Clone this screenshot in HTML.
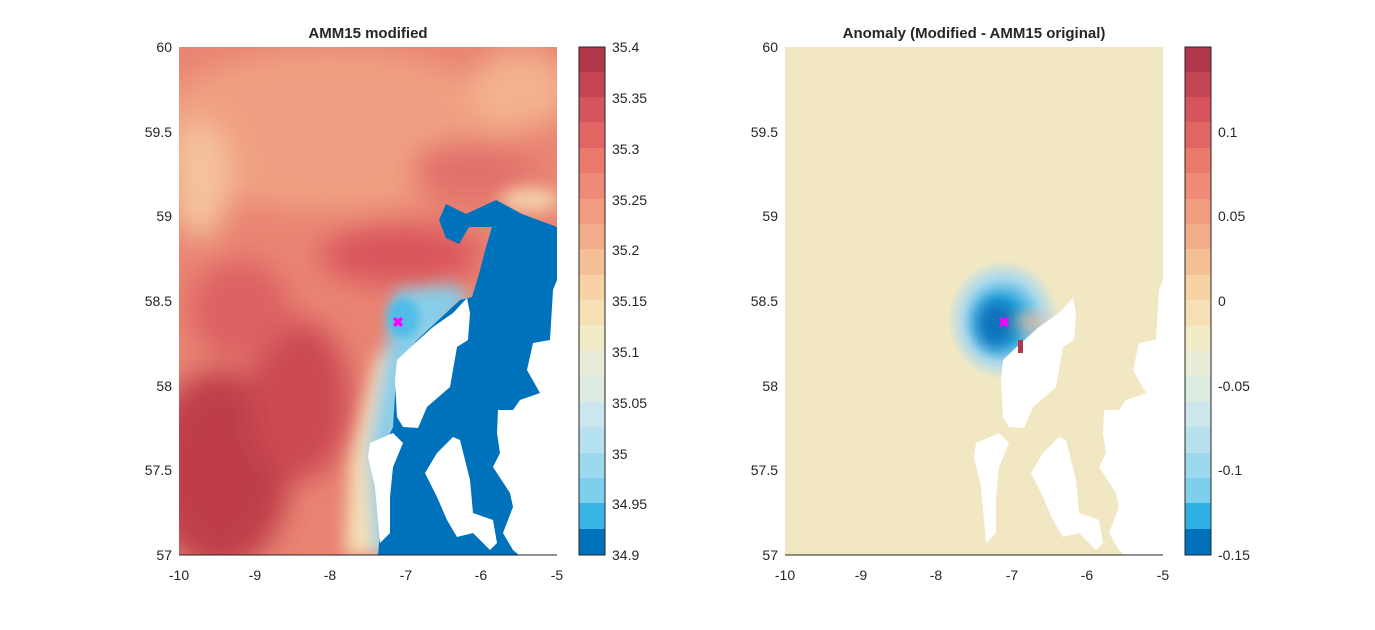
<!DOCTYPE html>
<html><head><meta charset="utf-8"><style>
body{margin:0;background:#fff;}
svg text{font-family:"Liberation Sans",sans-serif;fill:#262626;}
</style></head><body>
<svg width="1375" height="625" viewBox="0 0 1375 625" xmlns="http://www.w3.org/2000/svg">
<defs>
<filter id="b4" x="-50%" y="-50%" width="200%" height="200%"><feGaussianBlur stdDeviation="4"/></filter>
<filter id="b8" x="-50%" y="-50%" width="200%" height="200%"><feGaussianBlur stdDeviation="8"/></filter>
<filter id="b15" x="-50%" y="-50%" width="200%" height="200%"><feGaussianBlur stdDeviation="14"/></filter>
<clipPath id="cl"><rect x="179" y="47" width="378" height="508"/></clipPath>
<clipPath id="cr"><rect x="785" y="47" width="378" height="508"/></clipPath>
<radialGradient id="an" cx="0.5" cy="0.5" r="0.5">
<stop offset="0" stop-color="#0a6fb8"/><stop offset="0.35" stop-color="#2aa8dc"/>
<stop offset="0.7" stop-color="#a9d8ec"/><stop offset="1" stop-color="#f2e8c4"/>
</radialGradient>
<g id="land" fill="#fff">
<polygon points="467,298 470,313 468,340 457,347 450,387 427,407 418,428 403,427 397,417 395,380 397,360 415,343 433,327 453,313"/>
<polygon points="370,443 393,433 403,443 393,467 390,497 390,533 380,543 375,487 368,457"/>
<polygon points="425,473 437,453 453,437 460,440 470,480 473,513 493,520 497,543 490,550 473,533 457,537 447,520 437,497"/>
<polygon points="557,280 553,290 550,340 533,343 527,370 540,393 520,400 513,410 498,410 497,433 500,453 493,467 510,493 513,507 503,533 513,550 520,556 557,556"/>
</g>
</defs>
<!-- Left panel -->
<g clip-path="url(#cl)">
<rect x="179" y="47" width="378" height="508" fill="#e98473"/>
<g filter="url(#b15)">
<ellipse cx="330" cy="130" rx="180" ry="80" fill="#f0a082"/>
<ellipse cx="200" cy="180" rx="30" ry="60" fill="#f4c29c"/>
<ellipse cx="520" cy="90" rx="50" ry="40" fill="#f3b28e"/>
<ellipse cx="470" cy="170" rx="60" ry="30" fill="#e2706a"/>
<ellipse cx="400" cy="255" rx="80" ry="30" fill="#d9555b"/>
<ellipse cx="220" cy="470" rx="70" ry="100" fill="#be3c4a"/>
<ellipse cx="300" cy="400" rx="50" ry="80" fill="#cc4952"/>
<ellipse cx="240" cy="310" rx="50" ry="50" fill="#dc6262"/>
</g>
<g filter="url(#b8)">
<polygon points="430,285 470,295 420,360 400,460 392,555 345,555 350,460 375,360" fill="#f4dfb6"/>
<polygon points="395,290 455,285 470,300 420,350 398,440 390,555 375,555 368,450 385,360" fill="#86cde9"/>
<ellipse cx="530" cy="200" rx="30" ry="12" fill="#f4d2ac"/>
</g>
<ellipse cx="403" cy="318" rx="16" ry="20" fill="#4fbde8" filter="url(#b4)"/>
<polygon points="439,220 446,204 466,214 496,200 522,214 557,227 557,555 378,555 383,500 387,440 393,427 397,363 417,340 460,300 472,297 479,274 486,247 492,227 469,227 459,244 446,238" fill="#0072bc"/>
<use href="#land"/>
</g>
<text x="398" y="327" font-size="14" font-weight="bold" style="fill:#ff00ff" text-anchor="middle">✖</text>
<line x1="179" y1="555" x2="557" y2="555" stroke="#262626" stroke-width="1"/>
<g font-size="14" text-anchor="middle">
<text x="179" y="580">-10</text><text x="255" y="580">-9</text><text x="330" y="580">-8</text><text x="406" y="580">-7</text><text x="481" y="580">-6</text><text x="557" y="580">-5</text>
</g>
<g font-size="14" text-anchor="end">
<text x="172" y="52">60</text><text x="172" y="137">59.5</text><text x="172" y="221">59</text><text x="172" y="306">58.5</text><text x="172" y="391">58</text><text x="172" y="475">57.5</text><text x="172" y="560">57</text>
</g>
<text x="368" y="38" font-size="15" font-weight="bold" text-anchor="middle">AMM15 modified</text>
<g>
<rect x="579" y="47" width="26" height="26" fill="#b0384a"/>
<rect x="579" y="72" width="26" height="26" fill="#c54552"/>
<rect x="579" y="97" width="26" height="26" fill="#d6545b"/>
<rect x="579" y="122" width="26" height="26" fill="#e16663"/>
<rect x="579" y="148" width="26" height="26" fill="#ea7a6c"/>
<rect x="579" y="173" width="26" height="26" fill="#f08a78"/>
<rect x="579" y="199" width="26" height="26" fill="#f29c7f"/>
<rect x="579" y="224" width="26" height="26" fill="#f3ac8a"/>
<rect x="579" y="249" width="26" height="26" fill="#f6c096"/>
<rect x="579" y="275" width="26" height="26" fill="#f7d2a4"/>
<rect x="579" y="300" width="26" height="26" fill="#f4e0b4"/>
<rect x="579" y="326" width="26" height="26" fill="#f2ebc8"/>
<rect x="579" y="351" width="26" height="26" fill="#e9ecd8"/>
<rect x="579" y="376" width="26" height="26" fill="#dcebe0"/>
<rect x="579" y="402" width="26" height="26" fill="#cde6ee"/>
<rect x="579" y="427" width="26" height="26" fill="#b8e1ee"/>
<rect x="579" y="453" width="26" height="26" fill="#9ed8ee"/>
<rect x="579" y="478" width="26" height="26" fill="#7dcfec"/>
<rect x="579" y="503" width="26" height="26" fill="#3ab5e6"/>
<rect x="579" y="529" width="26" height="26" fill="#0072bc"/>
<rect x="579" y="47" width="26" height="508" fill="none" stroke="#262626"/>
</g>
<g font-size="14">
<text x="612" y="52">35.4</text><text x="612" y="103">35.35</text><text x="612" y="154">35.3</text><text x="612" y="205">35.25</text><text x="612" y="255">35.2</text><text x="612" y="306">35.15</text><text x="612" y="357">35.1</text><text x="612" y="408">35.05</text><text x="612" y="459">35</text><text x="612" y="509">34.95</text><text x="612" y="560">34.9</text>
</g>
<!-- Right panel -->
<g clip-path="url(#cr)">
<rect x="785" y="47" width="378" height="508" fill="#f2e7c3"/>
<ellipse cx="1003" cy="320" rx="56" ry="60" fill="url(#an)"/>
<ellipse cx="995" cy="325" rx="18" ry="24" fill="#0a72bc" filter="url(#b8)"/>
<ellipse cx="1030" cy="322" rx="16" ry="8" fill="#f3b894" filter="url(#b8)"/>
<g transform="translate(606,0)"><use href="#land"/></g>
<rect x="1018" y="340" width="5" height="13" fill="#b0384a"/>
</g>
<text x="1004" y="327" font-size="14" font-weight="bold" style="fill:#ff00ff" text-anchor="middle">✖</text>
<line x1="785" y1="555" x2="1163" y2="555" stroke="#262626" stroke-width="1"/>
<g font-size="14" text-anchor="middle">
<text x="785" y="580">-10</text><text x="861" y="580">-9</text><text x="936" y="580">-8</text><text x="1012" y="580">-7</text><text x="1087" y="580">-6</text><text x="1163" y="580">-5</text>
</g>
<g font-size="14" text-anchor="end">
<text x="778" y="52">60</text><text x="778" y="137">59.5</text><text x="778" y="221">59</text><text x="778" y="306">58.5</text><text x="778" y="391">58</text><text x="778" y="475">57.5</text><text x="778" y="560">57</text>
</g>
<text x="974" y="38" font-size="15" font-weight="bold" text-anchor="middle">Anomaly (Modified - AMM15 original)</text>
<g>
<rect x="1185" y="47" width="26" height="26" fill="#b0384a"/>
<rect x="1185" y="72" width="26" height="26" fill="#c54552"/>
<rect x="1185" y="97" width="26" height="26" fill="#d6545b"/>
<rect x="1185" y="122" width="26" height="26" fill="#e16663"/>
<rect x="1185" y="148" width="26" height="26" fill="#ea7a6c"/>
<rect x="1185" y="173" width="26" height="26" fill="#f08a78"/>
<rect x="1185" y="199" width="26" height="26" fill="#f29c7f"/>
<rect x="1185" y="224" width="26" height="26" fill="#f3ac8a"/>
<rect x="1185" y="249" width="26" height="26" fill="#f6c096"/>
<rect x="1185" y="275" width="26" height="26" fill="#f7d2a4"/>
<rect x="1185" y="300" width="26" height="26" fill="#f4e0b4"/>
<rect x="1185" y="326" width="26" height="26" fill="#f2ebc8"/>
<rect x="1185" y="351" width="26" height="26" fill="#e9ecd8"/>
<rect x="1185" y="376" width="26" height="26" fill="#dcebe0"/>
<rect x="1185" y="402" width="26" height="26" fill="#cde6ee"/>
<rect x="1185" y="427" width="26" height="26" fill="#b8e1ee"/>
<rect x="1185" y="453" width="26" height="26" fill="#9ed8ee"/>
<rect x="1185" y="478" width="26" height="26" fill="#7dcfec"/>
<rect x="1185" y="503" width="26" height="26" fill="#2fb0e4"/>
<rect x="1185" y="529" width="26" height="26" fill="#0072bc"/>
<rect x="1185" y="47" width="26" height="508" fill="none" stroke="#262626"/>
</g>
<g font-size="14">
<text x="1218" y="137">0.1</text><text x="1218" y="221">0.05</text><text x="1218" y="306">0</text><text x="1218" y="391">-0.05</text><text x="1218" y="475">-0.1</text><text x="1218" y="560">-0.15</text>
</g>
</svg>
</body></html>
